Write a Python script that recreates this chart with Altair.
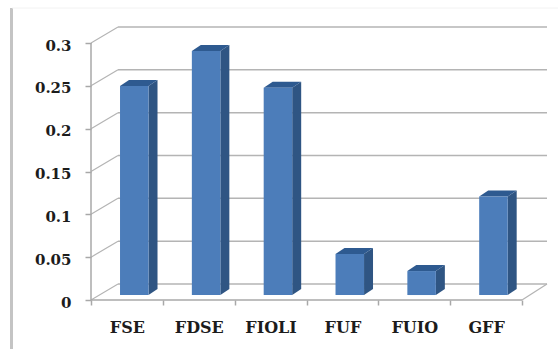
import altair as alt
import pandas as pd

# Series shown by the chart
categories = ["FSE", "FDSE", "FIOLI", "FUF", "FUIO", "GFF"]
values = [0.244, 0.285, 0.242, 0.048, 0.028, 0.115]
y_ticks = [0, 0.05, 0.1, 0.15, 0.2, 0.25, 0.3]

# Pseudo-3D geometry, in axis units
X_MAX = 6.348
Y_MAX = 0.3187
WALL_DX, WALL_DY = 0.376, 0.0187     # depth of the back wall
BAR_DX, BAR_DY = 0.125, 0.0070       # depth of each column
BAR_LEFT, BAR_W = 0.404, 0.397       # column start and width inside a slot
BAR_BASE = 0.0058                    # column foot above the front floor edge

GRID = "#b4b4b4"
FACE = "#4c7dba"
SIDE = "#2f5583"
TOP = "#2e5a90"
INK = "#1c1c1c"
FONT = "DejaVu Serif"

x_scale = alt.Scale(domain=[0, X_MAX], nice=False, zero=False)
y_scale = alt.Scale(domain=[0, Y_MAX], nice=False, zero=False)

# Axes: value labels on the left, category names centred in their slots
half_ticks = [i / 2 for i in range(13)]
label_map = "{" + ",".join(f"'{i + 0.5}':'{c}'" for i, c in enumerate(categories)) + "}"
x_axis = alt.Axis(
    values=half_ticks, domain=False, grid=False, tickSize=5, tickColor="#a8a8a8",
    tickWidth=1.5, tickOpacity={"condition": {"test": "datum.value % 1 != 0", "value": 0}, "value": 1},
    labelExpr=f"{label_map}[datum.value] || ''", labelFont=FONT, labelFontWeight="bold",
    labelFontSize=16, labelColor=INK, labelPadding=14, labelOverlap=False, labelFlush=False)
y_axis = alt.Axis(
    values=y_ticks, format="~g", domain=False, grid=False, tickSize=6, tickColor="#a8a8a8",
    tickWidth=1.5, labelFont=FONT, labelFontWeight="bold", labelFontSize=15,
    labelColor=INK, labelPadding=14, labelOffset=2, labelOverlap=False)
X = lambda f="x": alt.X(f"{f}:Q", scale=x_scale, axis=x_axis, title=None)
Y = lambda f="y": alt.Y(f"{f}:Q", scale=y_scale, axis=y_axis, title=None)

# Back wall gridlines and the diagonals joining them to the value axis
walls = pd.DataFrame({"v": y_ticks})
walls["x0"] = 0.0
walls["x1"] = WALL_DX
walls["x2"] = X_MAX
walls["yb"] = walls["v"] + WALL_DY

back = alt.Chart(walls).mark_rule(color=GRID, strokeWidth=1.5).encode(
    x=X("x1"), x2="x2:Q", y=Y("yb"))
diag = alt.Chart(walls).mark_rule(color=GRID, strokeWidth=1.2).encode(
    x=X("x0"), x2="x1:Q", y=Y("v"), y2="yb:Q")

# Right-hand floor edge and the front axis lines
floor_df = pd.DataFrame({"x": [6.0], "x2": [X_MAX], "y": [0.0], "y2": [WALL_DY]})
floor_edge = alt.Chart(floor_df).mark_rule(color=GRID, strokeWidth=1.2).encode(
    x=X(), x2="x2:Q", y=Y(), y2="y2:Q")

x_line_df = pd.DataFrame({"x": [0.0], "x2": [6.0], "y": [0.0]})
x_line = alt.Chart(x_line_df).mark_rule(color="#a8a8a8", strokeWidth=1.5).encode(
    x=X(), x2="x2:Q", y=Y())
y_line_df = pd.DataFrame({"x": [0.0], "y": [0.0], "y2": [0.3]})
y_line = alt.Chart(y_line_df).mark_rule(color="#a8a8a8", strokeWidth=1.5).encode(
    x=X(), y=Y(), y2="y2:Q")

# Three faces of every column
bars = pd.DataFrame({"c": categories, "v": values})
bars["l"] = [i + BAR_LEFT for i in range(len(bars))]
bars["r"] = bars["l"] + BAR_W
bars["foot"] = BAR_BASE
bars["head"] = bars["v"] + BAR_BASE

front = alt.Chart(bars).mark_rect(color=FACE).encode(
    x=X("l"), x2="r:Q", y=Y("foot"), y2="head:Q")

side_rows, top_rows = [], []
for row in bars.itertuples():
    side_rows += [
        {"c": row.c, "x": row.r, "lo": row.foot, "hi": row.head},
        {"c": row.c, "x": row.r + BAR_DX, "lo": row.foot + BAR_DY, "hi": row.head + BAR_DY},
    ]
    top_rows += [
        {"c": row.c, "y": row.head, "a": row.l, "b": row.r},
        {"c": row.c, "y": row.head + BAR_DY, "a": row.l + BAR_DX, "b": row.r + BAR_DX},
    ]

side = alt.Chart(pd.DataFrame(side_rows)).mark_area(color=SIDE).encode(
    x=X(), y=Y("lo"), y2="hi:Q", detail="c:N")
top = alt.Chart(pd.DataFrame(top_rows)).mark_area(color=TOP, orient="horizontal").encode(
    y=Y(), x=X("a"), x2="b:Q", detail="c:N")

# Frame fragments around the plot
frame_df = pd.DataFrame({"x": [0.0]})
frame_left = alt.Chart(frame_df).mark_rule(color="#c4c4c4", strokeWidth=3).encode(
    x=alt.value(-79.5), y=alt.value(-19), y2=alt.value(325))
frame_top = alt.Chart(frame_df).mark_rule(color="#f2f2f2", strokeWidth=1).encode(
    y=alt.value(-19), x=alt.value(-79), x2=alt.value(467))

chart = alt.layer(
    frame_left, frame_top, back, diag, floor_edge, x_line, y_line, side, top, front
).properties(
    width=456, height=273,
    padding={"left": 91, "top": 27, "right": 11, "bottom": 49},
    autosize=alt.AutoSizeParams(type="none"),
    background="white",
).configure_view(stroke=None)

chart.save("out.html", embed_options={"renderer": "svg", "actions": False})
